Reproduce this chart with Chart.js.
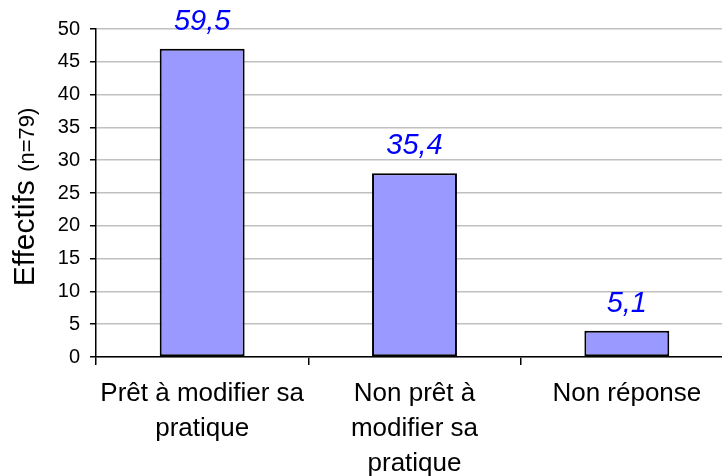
<!DOCTYPE html>
<html><head><meta charset="utf-8">
<script src="https://cdn.jsdelivr.net/npm/chart.js@4.4.0/dist/chart.umd.min.js"></script>
<style>
html,body{margin:0;padding:0;background:#fff;overflow:hidden;width:722px;height:476px;}
#wrap{position:absolute;left:0;top:0;width:736px;height:476px;}
</style></head>
<body>
<div id="wrap"><canvas id="c" width="736" height="476"></canvas></div>
<script>
const categories = [["Prêt à modifier sa","pratique"],["Non prêt à","modifier sa","pratique"],"Non réponse"];
const counts = [47, 28, 4];
const percents = [59.5, 35.4, 5.1];
const yTicks = [0,5,10,15,20,25,30,35,40,45,50];
const yTitleMain = "Effectifs";
const yTitleSub = "(n=79)";

const FONT = "'Liberation Sans', Arial, sans-serif";

const labelPlugin = {
  id: 'pctLabels',
  afterDatasetsDraw(chart) {
    const ctx = chart.ctx;
    const meta = chart.getDatasetMeta(0);
    ctx.save();
    ctx.fillStyle = '#0000FF';
    ctx.font = "italic 29px " + FONT;
    ctx.textAlign = 'center';
    ctx.textBaseline = 'alphabetic';
    meta.data.forEach((bar, i) => {
      ctx.fillText(percents[i].toFixed(1).replace('.', ','), bar.x, bar.y - 19);
    });
    ctx.restore();
  }
};

const yTitlePlugin = {
  id: 'yTitle',
  afterDraw(chart) {
    const ctx = chart.ctx;
    const a = chart.chartArea;
    ctx.save();
    ctx.translate(34, (a.top + a.bottom) / 2 + 4);
    ctx.rotate(-Math.PI / 2);
    ctx.fillStyle = '#000';
    ctx.textBaseline = 'alphabetic';
    const f1 = "30px " + FONT, f2 = "22px " + FONT;
    ctx.font = f1; const w1 = ctx.measureText(yTitleMain + " ").width;
    ctx.font = f2; const w2 = ctx.measureText(yTitleSub).width;
    const start = -(w1 + w2) / 2;
    ctx.font = f1; ctx.textAlign = 'left'; ctx.fillText(yTitleMain, start, 0);
    ctx.font = f2; ctx.fillText(yTitleSub, start + w1, 0);
    ctx.restore();
  }
};

new Chart(document.getElementById('c'), {
  type: 'bar',
  data: {
    labels: categories,
    datasets: [{
      data: counts,
      backgroundColor: '#9999FF',
      borderColor: '#000000',
      borderWidth: 2,
      borderSkipped: false,
      barPercentage: 0.4,
      categoryPercentage: 1.0
    }]
  },
  options: {
    responsive: false,
    animation: false,
    events: [],
    layout: { padding: { top: 29, right: 3, left: 0, bottom: 0 } },
    plugins: { legend: { display: false }, tooltip: { enabled: false } },
    scales: {
      x: {
        grid: { offset: true, drawOnChartArea: false, drawTicks: true, tickLength: 8, color: '#000', lineWidth: 1.5 },
        border: { color: '#000', width: 1.5 },
        ticks: { color: '#000', font: { family: FONT, size: 26, lineHeight: 1.35 }, padding: 11, maxRotation: 0, autoSkip: false },
        afterFit(s) { s.height = 119; }
      },
      y: {
        min: 0, max: 50,
        afterBuildTicks(s) { s.ticks = yTicks.map(v => ({ value: v })); },
        grid: { color: '#C0C0C0', lineWidth: 1.5, tickLength: 6, tickColor: '#000' },
        border: { color: '#000', width: 1.5 },
        ticks: { color: '#000', font: { family: FONT, size: 20 }, padding: 10 },
        afterFit(s) { s.width = 96; }
      }
    }
  },
  plugins: [labelPlugin, yTitlePlugin]
});
</script>
</body></html>
